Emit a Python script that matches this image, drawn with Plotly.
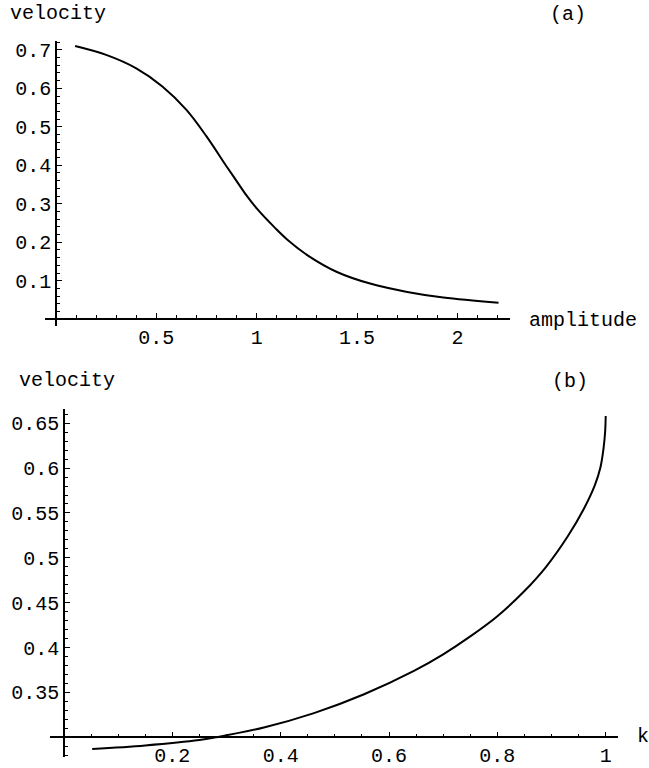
import plotly.graph_objects as go

# Panel (a): velocity vs amplitude
amp_a = [0.095, 0.25, 0.40, 0.53, 0.65, 0.75, 0.85, 0.90, 0.95, 1.00, 1.09, 1.15, 1.265, 1.40, 1.565, 1.75, 1.93, 2.205]
vel_a = [0.710, 0.687, 0.652, 0.605, 0.544, 0.475, 0.397, 0.359, 0.321, 0.288, 0.238, 0.208, 0.162, 0.1227, 0.0925, 0.0708, 0.0562, 0.0424]

# Panel (b): velocity vs k
k_b = [0.052, 0.15, 0.25, 0.28, 0.369, 0.4615, 0.554, 0.646, 0.70, 0.75, 0.80, 0.85, 0.89, 0.93, 0.96, 0.98, 0.99, 0.996, 0.999, 1.0]
vel_b = [0.287, 0.291, 0.297, 0.300, 0.311, 0.327, 0.348, 0.374, 0.3925, 0.4125, 0.435, 0.463, 0.490, 0.524, 0.555, 0.581, 0.600, 0.622, 0.641, 0.658]

ticks_ax = [0.5, 1, 1.5, 2]
ticks_ax_text = ["0.5", "1", "1.5", "2"]
ticks_ay = [0.1, 0.2, 0.3, 0.4, 0.5, 0.6, 0.7]
ticks_ay_text = ["0.1", "0.2", "0.3", "0.4", "0.5", "0.6", "0.7"]
ticks_bx = [0.2, 0.4, 0.6, 0.8, 1.0]
ticks_bx_text = ["0.2", "0.4", "0.6", "0.8", "1"]
ticks_by = [0.35, 0.4, 0.45, 0.5, 0.55, 0.6, 0.65]
ticks_by_text = ["0.35", "0.4", "0.45", "0.5", "0.55", "0.6", "0.65"]

W, H = 649, 768
FONT = "Liberation Mono"
FS = 20

def px(x):
    return x / W

def py(y):
    return 1 - y / H

fig = go.Figure()
fig.add_trace(go.Scatter(x=amp_a, y=vel_a, mode="lines", line=dict(color="black", width=2, shape="spline", smoothing=1.0),
                         xaxis="x", yaxis="y", showlegend=False, hoverinfo="skip"))
fig.add_trace(go.Scatter(x=k_b, y=vel_b, mode="lines", line=dict(color="black", width=2, shape="spline", smoothing=1.0),
                         xaxis="x2", yaxis="y2", showlegend=False, hoverinfo="skip"))

common = dict(showgrid=False, zeroline=False, showline=True, linecolor="black", linewidth=1.5,
              ticks="inside", ticklen=5, tickwidth=1, tickcolor="black",
              tickfont=dict(family=FONT, size=FS, color="black"), fixedrange=True)

fig.update_layout(
    width=W, height=H,
    margin=dict(l=0, r=0, t=0, b=0),
    paper_bgcolor="white", plot_bgcolor="white",
    xaxis=dict(**common, domain=[px(45), px(510)], range=[(45 - 56) / 200.7, (510 - 56) / 200.7],
               anchor="free", position=py(319),
               tickvals=ticks_ax, ticktext=ticks_ax_text,
               minor=dict(dtick=0.1, tick0=0, ticks="inside", ticklen=3, tickcolor="black")),
    yaxis=dict(**common, domain=[py(326), py(40)], range=[-(326 - 319) / 385.7, (319 - 40) / 385.7],
               anchor="free", position=px(56),
               tickvals=ticks_ay, ticktext=ticks_ay_text,
               minor=dict(dtick=0.02, tick0=0, ticks="inside", ticklen=3, tickcolor="black")),
    xaxis2=dict(**common, domain=[px(50), px(618)], range=[(50 - 64) / 541.7, (618 - 64) / 541.7],
                anchor="free", position=py(738.3),
                tickvals=ticks_bx, ticktext=ticks_bx_text,
                minor=dict(dtick=0.05, tick0=0, ticks="inside", ticklen=3, tickcolor="black")),
    yaxis2=dict(**common, domain=[py(758), py(409)], range=[0.3 - (758 - 738.3) / 900, 0.3 + (738.3 - 409) / 900],
                anchor="free", position=px(64),
                tickvals=ticks_by, ticktext=ticks_by_text,
                minor=dict(dtick=0.01, tick0=0, ticks="inside", ticklen=3, tickcolor="black")),
)

ann_font = dict(family=FONT, size=FS, color="black")
annots = [
    ("velocity", 8, 13, "left"),
    ("(a)", 568, 14, "center"),
    ("amplitude", 527, 320, "left"),
    ("velocity", 17, 380, "left"),
    ("(b)", 570, 381, "center"),
    ("k", 643, 737, "center"),
]
for text, x, y, xa in annots:
    fig.add_annotation(text=text, x=px(x), y=py(y), xref="paper", yref="paper",
                       xanchor=xa, yanchor="middle", showarrow=False, font=ann_font)

fig.write_html("out.html")
